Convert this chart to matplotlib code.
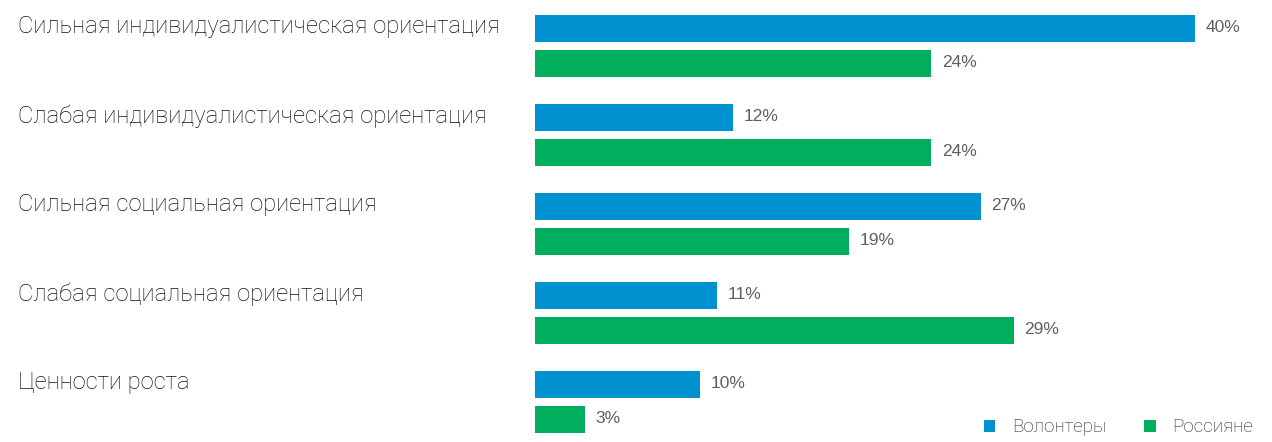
import matplotlib
matplotlib.use('Agg')
import matplotlib.pyplot as plt
import numpy as np

categories = [
    'Сильная индивидуалистическая ориентация',
    'Слабая индивидуалистическая ориентация',
    'Сильная социальная ориентация',
    'Слабая социальная ориентация',
    'Ценности роста',
]
volunteers = [40, 12, 27, 11, 10]
russians = [24, 24, 19, 29, 3]
series_names = ['Волонтеры', 'Россияне']

BLUE = '#0092d0'
GREEN = '#00ae5e'

plt.rcParams['font.family'] = ['Roboto', 'DejaVu Sans']

fig = plt.figure(figsize=(12.72, 4.42), dpi=100)
ax = fig.add_axes([535 / 1272, 0, (1265 - 535) / 1272, 1])

y = np.arange(len(categories))
h = 0.31
off = 0.197

b1 = ax.barh(y - off, volunteers, height=h, color=BLUE, label=series_names[0])
b2 = ax.barh(y + off, russians, height=h, color=GREEN, label=series_names[1])

for bars, vals in ((b1, volunteers), (b2, russians)):
    for bar, v in zip(bars, vals):
        ax.annotate(f'{v}%', (bar.get_width(), bar.get_y() + bar.get_height() / 2),
                    xytext=(8, 1), textcoords='offset points', va='center',
                    ha='left', fontsize=12.5, color='#5f5f5f',
                    family=['Liberation Sans', 'DejaVu Sans'])

ax.set_xlim(0, 730 / 16.5)
ax.set_ylim(4.449, -0.517)
ax.axis('off')

# category labels sit at the left edge of the figure
for yi, name in zip(y, categories):
    fig.text(18 / 1272, 1 - (46 + 89 * yi - 19) / 442, name, ha='left', va='center',
             fontsize=17.2, color='#111111', fontweight='light')

leg = fig.legend(handles=[b1, b2], labels=series_names, loc='lower right',
                 bbox_to_anchor=(1270 / 1272, -0.025), ncol=2, frameon=False,
                 prop={'size': 13.5, 'weight': 'light'},
                 handlelength=0.6, handleheight=0.6,
                 columnspacing=2.0, handletextpad=0.9, labelcolor='#222222')

fig.savefig('out.png', dpi=100)
